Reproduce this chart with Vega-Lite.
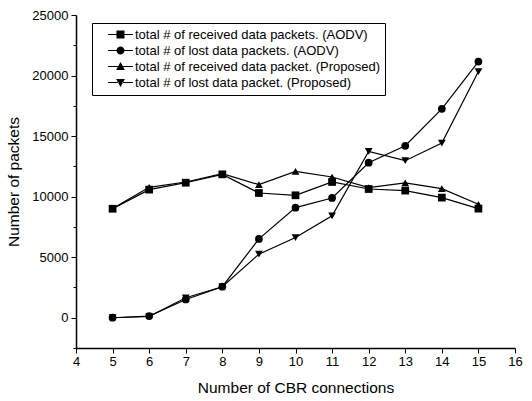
{
  "$schema": "https://vega.github.io/schema/vega-lite/v6.json",
  "autosize": {"type": "none"},
  "width": 439,
  "height": 333,
  "padding": {"left": 76, "top": 15, "right": 17, "bottom": 53},
  "background": "white",
  "config": {
    "view": {"stroke": null},
    "font": "Liberation Sans",
    "axis": {"domainColor": "black", "tickColor": "black", "labelColor": "black", "titleColor": "black", "grid": false, "domainWidth": 1.5, "tickWidth": 1}
  },
  "data": {"values": [
    {"cbr": 5, "series": "total # of received data packets. (AODV)", "packets": 9000},
    {"cbr": 6, "series": "total # of received data packets. (AODV)", "packets": 10580},
    {"cbr": 7, "series": "total # of received data packets. (AODV)", "packets": 11150},
    {"cbr": 8, "series": "total # of received data packets. (AODV)", "packets": 11840},
    {"cbr": 9, "series": "total # of received data packets. (AODV)", "packets": 10300},
    {"cbr": 10, "series": "total # of received data packets. (AODV)", "packets": 10110},
    {"cbr": 11, "series": "total # of received data packets. (AODV)", "packets": 11210},
    {"cbr": 12, "series": "total # of received data packets. (AODV)", "packets": 10630},
    {"cbr": 13, "series": "total # of received data packets. (AODV)", "packets": 10500},
    {"cbr": 14, "series": "total # of received data packets. (AODV)", "packets": 9920},
    {"cbr": 15, "series": "total # of received data packets. (AODV)", "packets": 9010},
    {"cbr": 5, "series": "total # of lost data packets. (AODV)", "packets": 0},
    {"cbr": 6, "series": "total # of lost data packets. (AODV)", "packets": 140},
    {"cbr": 7, "series": "total # of lost data packets. (AODV)", "packets": 1510},
    {"cbr": 8, "series": "total # of lost data packets. (AODV)", "packets": 2560},
    {"cbr": 9, "series": "total # of lost data packets. (AODV)", "packets": 6510},
    {"cbr": 10, "series": "total # of lost data packets. (AODV)", "packets": 9090},
    {"cbr": 11, "series": "total # of lost data packets. (AODV)", "packets": 9890},
    {"cbr": 12, "series": "total # of lost data packets. (AODV)", "packets": 12800},
    {"cbr": 13, "series": "total # of lost data packets. (AODV)", "packets": 14200},
    {"cbr": 14, "series": "total # of lost data packets. (AODV)", "packets": 17250},
    {"cbr": 15, "series": "total # of lost data packets. (AODV)", "packets": 21150},
    {"cbr": 5, "series": "total # of received data packet. (Proposed)", "packets": 9010},
    {"cbr": 6, "series": "total # of received data packet. (Proposed)", "packets": 10770},
    {"cbr": 7, "series": "total # of received data packet. (Proposed)", "packets": 11210},
    {"cbr": 8, "series": "total # of received data packet. (Proposed)", "packets": 11900},
    {"cbr": 9, "series": "total # of received data packet. (Proposed)", "packets": 10990},
    {"cbr": 10, "series": "total # of received data packet. (Proposed)", "packets": 12090},
    {"cbr": 11, "series": "total # of received data packet. (Proposed)", "packets": 11620},
    {"cbr": 12, "series": "total # of received data packet. (Proposed)", "packets": 10740},
    {"cbr": 13, "series": "total # of received data packet. (Proposed)", "packets": 11130},
    {"cbr": 14, "series": "total # of received data packet. (Proposed)", "packets": 10660},
    {"cbr": 15, "series": "total # of received data packet. (Proposed)", "packets": 9370},
    {"cbr": 5, "series": "total # of lost data packet. (Proposed)", "packets": 0},
    {"cbr": 6, "series": "total # of lost data packet. (Proposed)", "packets": 100},
    {"cbr": 7, "series": "total # of lost data packet. (Proposed)", "packets": 1650},
    {"cbr": 8, "series": "total # of lost data packet. (Proposed)", "packets": 2560},
    {"cbr": 9, "series": "total # of lost data packet. (Proposed)", "packets": 5250},
    {"cbr": 10, "series": "total # of lost data packet. (Proposed)", "packets": 6620},
    {"cbr": 11, "series": "total # of lost data packet. (Proposed)", "packets": 8410},
    {"cbr": 12, "series": "total # of lost data packet. (Proposed)", "packets": 13740},
    {"cbr": 13, "series": "total # of lost data packet. (Proposed)", "packets": 12970},
    {"cbr": 14, "series": "total # of lost data packet. (Proposed)", "packets": 14420},
    {"cbr": 15, "series": "total # of lost data packet. (Proposed)", "packets": 20330}
  ]},
  "encoding": {
    "x": {"field": "cbr", "type": "quantitative",
      "scale": {"domain": [4, 16], "nice": false, "zero": false},
      "axis": {"title": "Number of CBR connections", "values": [4, 4.5, 5, 5.5, 6, 6.5, 7, 7.5, 8, 8.5, 9, 9.5, 10, 10.5, 11, 11.5, 12, 12.5, 13, 13.5, 14, 14.5, 15, 15.5, 16],
        "format": "d",
        "labelExpr": "datum.value % 1 === 0 ? datum.label : ''",
        "tickSize": {"condition": {"test": "datum.value % 1 === 0", "value": 5}, "value": 3},
        "labelFontSize": 13, "labelPadding": 2, "titleFontSize": 15.5, "titleFontWeight": "normal", "titlePadding": 12, "labelFlush": false}},
    "y": {"field": "packets", "type": "quantitative",
      "scale": {"domain": [-2500, 25000], "nice": false, "zero": false},
      "axis": {"title": "Number of packets", "values": [-2500, 0, 2500, 5000, 7500, 10000, 12500, 15000, 17500, 20000, 22500, 25000],
        "labelExpr": "datum.value % 5000 === 0 ? datum.label : ''", "format": "d",
        "tickSize": {"condition": {"test": "datum.value % 5000 === 0", "value": 5}, "value": 3},
        "labelFontSize": 13, "labelPadding": 3, "titleFontSize": 15.5, "titleFontWeight": "normal", "titlePadding": 10, "labelFlush": false}}
  },
  "layer": [
    {"mark": {"type": "line", "color": "black", "strokeWidth": 1.2},
     "encoding": {"detail": {"field": "series"}}},
    {"mark": {"type": "point", "filled": true, "color": "black", "opacity": 1, "size": 60},
     "encoding": {"shape": {"field": "series", "type": "nominal",
       "scale": {"domain": ["total # of received data packets. (AODV)", "total # of lost data packets. (AODV)", "total # of received data packet. (Proposed)", "total # of lost data packet. (Proposed)"],
                 "range": ["square", "circle", "triangle-up", "triangle-down"]},
       "legend": null}}},
    {"mark": {"type": "point", "filled": true, "color": "black", "opacity": 0, "size": 60},
     "encoding": {"shape": {"field": "series", "type": "nominal",
       "scale": {"domain": ["total # of received data packets. (AODV)", "total # of lost data packets. (AODV)", "total # of received data packet. (Proposed)", "total # of lost data packet. (Proposed)"],
                 "range": [
                   "M-1,-1H1V1H-1Z M-3.1,-0.13H-1V0.13H-3.1Z M1,-0.13H3.1V0.13H1Z",
                   "M-1,0A1,1,0,1,1,1,0A1,1,0,1,1,-1,0Z M-3.1,-0.13H-0.99V0.13H-3.1Z M0.99,-0.13H3.1V0.13H0.99Z",
                   "M0,-1.1L1.1,0.9L-1.1,0.9Z M-3.1,-0.13H-0.5V0.13H-3.1Z M0.5,-0.13H3.1V0.13H0.5Z",
                   "M0,1.1L1.1,-0.9L-1.1,-0.9Z M-3.1,-0.13H-0.5V0.13H-3.1Z M0.5,-0.13H3.1V0.13H0.5Z"
                 ]},
       "legend": {"title": null, "orient": "none", "legendX": 16, "legendY": 8, "strokeColor": "black", "fillColor": "white",
         "padding": 5, "rowPadding": 1, "labelFontSize": 13, "labelLimit": 400, "symbolSize": 64, "symbolFillColor": "black", "symbolStrokeColor": "black", "symbolOpacity": 1, "symbolOffset": 17, "labelOffset": 8,
         "encode": {"symbols": {"update": {"opacity": {"value": 1}, "fill": {"value": "black"}, "stroke": {"value": "black"}, "strokeWidth": {"value": 0}}}}}}}}
  ],
  "resolve": {"scale": {"shape": "independent"}, "legend": {"shape": "independent"}}
}
